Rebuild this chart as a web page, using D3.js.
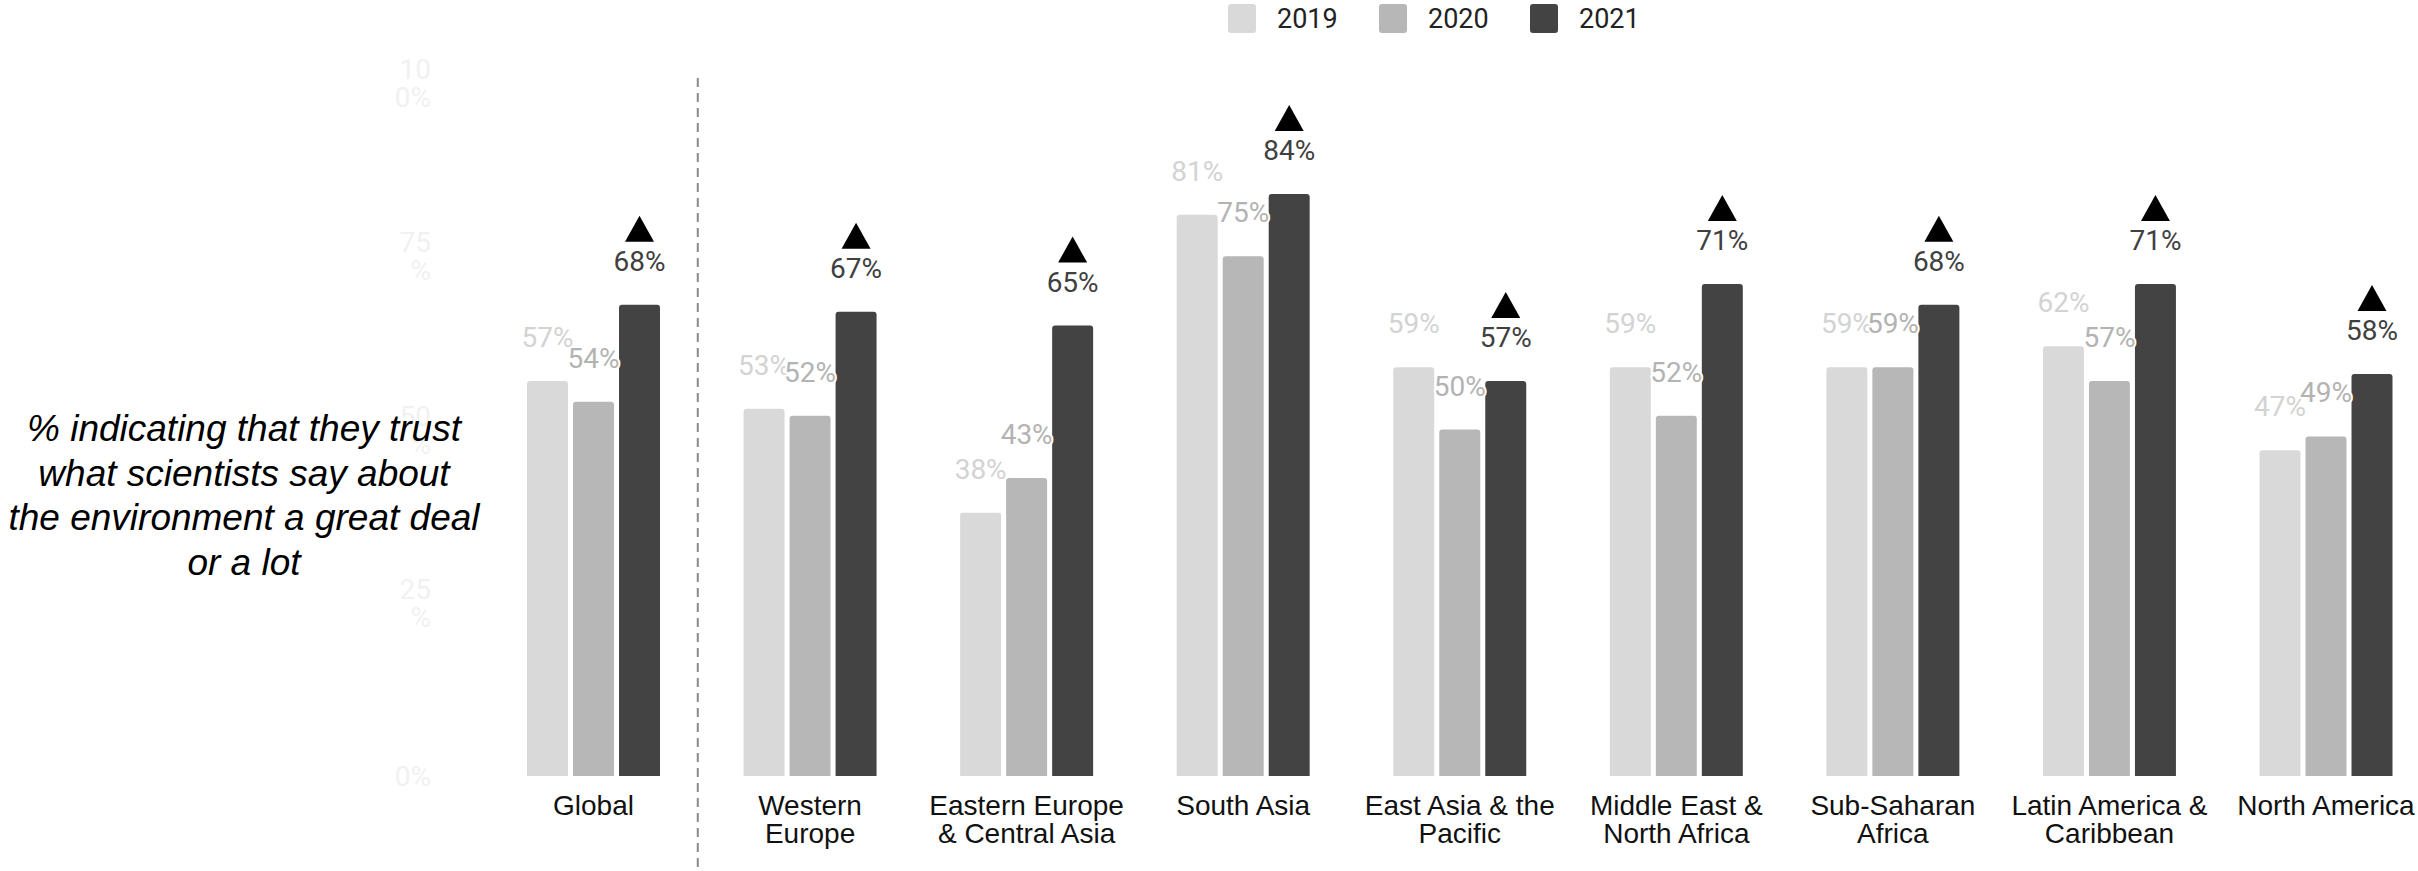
<!DOCTYPE html>
<html>
<head>
<meta charset="utf-8">
<script src="https://cdn.jsdelivr.net/npm/d3@7"></script>
<style>
  html, body { margin: 0; padding: 0; background: #ffffff; }
  svg { display: block; }
</style>
</head>
<body>
<svg id="chart" width="2418" height="871"></svg>
<script>
// Trust in what scientists say about the environment, by region and year
const categories = [
  "Global", "Western Europe", "Eastern Europe & Central Asia", "South Asia",
  "East Asia & the Pacific", "Middle East & North Africa", "Sub-Saharan Africa",
  "Latin America & Caribbean", "North America"
];
const categoryLines = [
  ["Global"], ["Western", "Europe"], ["Eastern Europe", "& Central Asia"], ["South Asia"],
  ["East Asia & the", "Pacific"], ["Middle East &", "North Africa"], ["Sub-Saharan", "Africa"],
  ["Latin America &", "Caribbean"], ["North America"]
];
const years = ["2019", "2020", "2021"];
const values2019 = [57, 53, 38, 81, 59, 59, 59, 62, 47];
const values2020 = [54, 52, 43, 75, 50, 52, 59, 57, 49];
const values2021 = [68, 67, 65, 84, 57, 71, 68, 71, 58];
const yTickValues = [0, 25, 50, 75, 100];
const yTickLabels = [["0%"], ["25", "%"], ["50", "%"], ["75", "%"], ["10", "0%"]];
const titleLines = [
  "% indicating that they trust",
  "what scientists say about",
  "the environment a great deal",
  "or a lot"
];

const seriesValues = [values2019, values2020, values2021];
const barColors = ["#d9d9d9", "#b7b7b7", "#434343"];
const labelColors = ["#d3d3d3", "#b3b3b3", "#404040"];

const svg = d3.select("#chart");

const y = d3.scaleLinear().domain([0, 100]).range([776, 83]);
const x = d3.scalePoint().domain(categories).range([593.5, 2326]);
const xInner = d3.scaleBand().domain(years).range([-66.5, 66.5]).paddingInner(0.109);

// Faint y-axis tick labels
const yAxis = svg.append("g").attr("class", "y-axis");
yTickValues.forEach((v, i) => {
  const lines = yTickLabels[i];
  const lh = 28;
  const t = yAxis.append("text")
    .attr("x", 431)
    .attr("text-anchor", "end")
    .attr("font-family", "Roboto, sans-serif")
    .attr("font-size", 28)
    .attr("fill", "#f1f1f1");
  lines.forEach((ln, j) => {
    t.append("tspan")
      .attr("x", 431)
      .attr("y", y(v) + 10 + (j - (lines.length - 1) / 2) * lh)
      .text(ln);
  });
});

// Vertical title on the left
const title = svg.append("text")
  .attr("font-family", "'Liberation Sans', Arial, sans-serif")
  .attr("font-style", "italic")
  .attr("font-size", 37)
  .attr("fill", "#000")
  .attr("text-anchor", "middle");
titleLines.forEach((ln, i) => {
  title.append("tspan").attr("x", 244).attr("y", 441 + i * 44.5).text(ln);
});

// Dashed separator between Global and the regions
const sepX = (x(categories[0]) + x(categories[1])) / 2 - 4;
svg.append("line")
  .attr("x1", sepX).attr("x2", sepX)
  .attr("y1", 78).attr("y2", 871)
  .attr("stroke", "#8a8a8a")
  .attr("stroke-width", 2)
  .attr("stroke-dasharray", "9,6");

// Bars with rounded top corners
function topRounded(x0, y0, w, h, r) {
  r = Math.min(r, h, w / 2);
  return `M${x0},${y0 + h}V${y0 + r}Q${x0},${y0} ${x0 + r},${y0}` +
         `H${x0 + w - r}Q${x0 + w},${y0} ${x0 + w},${y0 + r}V${y0 + h}Z`;
}

const groups = svg.append("g").selectAll("g")
  .data(categories)
  .join("g")
  .attr("transform", d => `translate(${x(d)},0)`);

const bw = xInner.bandwidth();
groups.each(function (cat, ci) {
  const g = d3.select(this);
  years.forEach((yr, si) => {
    const v = seriesValues[si][ci];
    const bx = xInner(yr);
    g.append("path")
      .attr("d", topRounded(bx, y(v), bw, y(0) - y(v), 3))
      .attr("fill", barColors[si]);
  });
});

// Value labels (drawn after all bars so the halos sit on top)
groups.each(function (cat, ci) {
  const g = d3.select(this);
  years.forEach((yr, si) => {
    const v = seriesValues[si][ci];
    const cx = xInner(yr) + bw / 2;
    g.append("text")
      .attr("x", cx)
      .attr("y", y(v) - 34)
      .attr("text-anchor", "middle")
      .attr("font-family", "Roboto, sans-serif")
      .attr("font-size", 28)
      .attr("fill", labelColors[si])
      .attr("stroke", "#ffffff")
      .attr("stroke-width", 4)
      .attr("stroke-linejoin", "round")
      .attr("paint-order", "stroke")
      .text(v + "%");
  });
  // Up-arrow marker for an increase from 2020 to 2021
  const v21 = values2021[ci];
  if (v21 > values2020[ci]) {
    const cx = xInner("2021") + bw / 2;
    const by = y(v21) - 63;
    g.append("path")
      .attr("d", `M${cx - 14.5},${by}L${cx + 14.5},${by}L${cx},${by - 26}Z`)
      .attr("fill", "#000");
  }
});

// Category labels
groups.each(function (cat, ci) {
  const t = d3.select(this).append("text")
    .attr("text-anchor", "middle")
    .attr("font-family", "'Liberation Sans', Arial, sans-serif")
    .attr("font-size", 28)
    .attr("fill", "#111");
  categoryLines[ci].forEach((ln, j) => {
    t.append("tspan").attr("x", 0).attr("y", 815 + j * 28).text(ln);
  });
});

// Legend
const legend = svg.append("g").attr("class", "legend");
years.forEach((yr, i) => {
  const lx = 1228 + i * 151;
  legend.append("rect")
    .attr("x", lx).attr("y", 4)
    .attr("width", 28).attr("height", 29)
    .attr("rx", 3)
    .attr("fill", barColors[i]);
  legend.append("text")
    .attr("x", lx + 49).attr("y", 28)
    .attr("font-family", "Roboto, sans-serif")
    .attr("font-size", 27)
    .attr("fill", "#222")
    .text(yr);
});
</script>
</body>
</html>
